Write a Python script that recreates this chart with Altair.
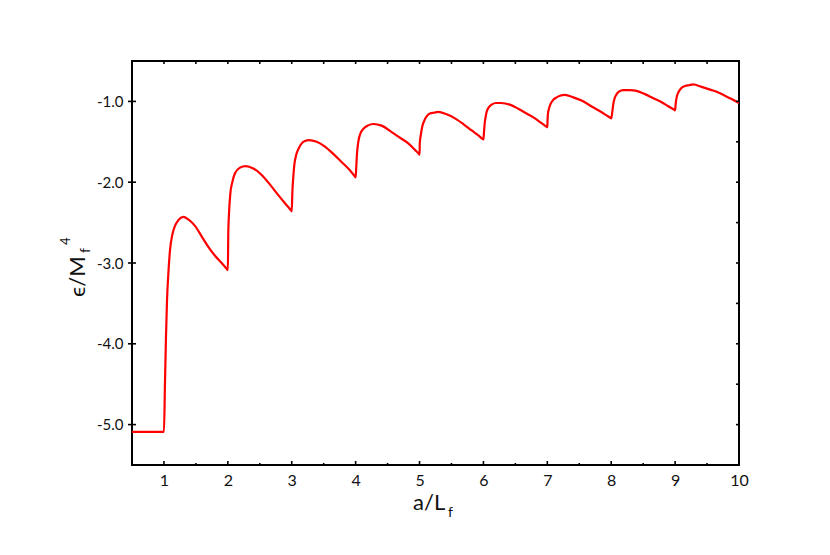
import altair as alt
import pandas as pd

# curve
x_vals = [0.5, 1.0,
          1.016, 1.032, 1.048, 1.069, 1.095, 1.131, 1.173, 1.225, 1.303, 1.381, 1.486, 1.590, 1.694, 1.799, 1.903, 1.99, 2.0,
          2.007, 2.018, 2.039, 2.07, 2.112, 2.19, 2.279, 2.399, 2.53, 2.66, 2.79, 2.894, 2.99, 3.0,
          3.009, 3.025, 3.04, 3.067, 3.103, 3.156, 3.207, 3.27, 3.39, 3.52, 3.65, 3.78, 3.896, 3.99, 4.0,
          4.01, 4.021, 4.042, 4.073, 4.12, 4.188, 4.277, 4.407, 4.564, 4.694, 4.824, 4.929, 4.99, 5.0,
          5.004, 5.023, 5.043, 5.074, 5.117, 5.163, 5.226, 5.293, 5.424, 5.555, 5.685, 5.816, 5.92, 5.99, 6.0,
          6.009, 6.019, 6.035, 6.05, 6.087, 6.129, 6.196, 6.274, 6.415, 6.545, 6.676, 6.806, 6.911, 6.99, 7.0,
          7.005, 7.01, 7.026, 7.052, 7.094, 7.146, 7.198, 7.276, 7.407, 7.537, 7.668, 7.798, 7.902, 7.99, 8.0,
          8.017, 8.033, 8.054, 8.085, 8.121, 8.189, 8.293, 8.398, 8.528, 8.658, 8.79, 8.893, 8.99, 9.0,
          9.009, 9.024, 9.05, 9.092, 9.155, 9.217, 9.284, 9.415, 9.572, 9.676, 9.78, 9.885, 10.0]
y_vals = [-5.09, -5.09,
          -4.49, -3.91, -3.46, -3.13, -2.84, -2.65, -2.54, -2.47, -2.43, -2.46, -2.54, -2.67, -2.80, -2.91, -3.00, -3.08, -3.09,
          -2.63, -2.39, -2.14, -2.00, -1.89, -1.82, -1.80, -1.83, -1.91, -2.03, -2.16, -2.26, -2.35, -2.36,
          -2.14, -1.93, -1.79, -1.67, -1.59, -1.52, -1.49, -1.48, -1.50, -1.56, -1.65, -1.75, -1.84, -1.93, -1.94,
          -1.81, -1.65, -1.50, -1.40, -1.34, -1.30, -1.28, -1.30, -1.38, -1.45, -1.52, -1.60, -1.65, -1.66,
          -1.52, -1.40, -1.31, -1.24, -1.18, -1.15, -1.14, -1.13, -1.16, -1.21, -1.28, -1.36, -1.42, -1.465, -1.47,
          -1.38, -1.28, -1.19, -1.13, -1.07, -1.04, -1.02, -1.02, -1.04, -1.09, -1.15, -1.21, -1.27, -1.315, -1.32,
          -1.21, -1.15, -1.09, -1.03, -0.98, -0.95, -0.93, -0.92, -0.95, -0.99, -1.05, -1.11, -1.16, -1.205, -1.21,
          -1.13, -1.03, -0.96, -0.91, -0.88, -0.86, -0.86, -0.87, -0.91, -0.96, -1.01, -1.06, -1.105, -1.11,
          -1.03, -0.95, -0.89, -0.84, -0.81, -0.80, -0.79, -0.82, -0.86, -0.89, -0.93, -0.97, -1.02]

x_major = [1, 2, 3, 4, 5, 6, 7, 8, 9, 10]
x_minor = [1.5, 2.5, 3.5, 4.5, 5.5, 6.5, 7.5, 8.5, 9.5]
x_top = [1, 1.5, 2, 2.5, 3, 3.5, 4, 4.5, 5, 5.5, 6, 6.5, 7, 7.5, 8, 8.5, 9, 9.5]
y_major = [-5.0, -4.0, -3.0, -2.0, -1.0]
y_right = [-5.0, -4.5, -4.0, -3.5, -3.0, -2.5, -2.0, -1.5, -1.0]

x_title = "a/L"
x_title_sub = "f"
y_title = "ϵ/M"
y_title_sub = "f"
y_title_sup = "4"

W, H = 607, 404
FONT = "Lato"
xs = alt.Scale(domain=[0.5, 10], nice=False, zero=False)
ys = alt.Scale(domain=[-5.5, -0.5], nice=False, zero=False)
ax_x = alt.Axis(values=x_major, format="d", tickSize=0, domain=False, grid=False, title=None,
                labelFontSize=16, labelPadding=7, labelFont=FONT, labelColor="#111",
                labelFlush=False)
ax_y = alt.Axis(values=y_major, tickSize=0, domain=False, grid=False, title=None,
                labelExpr="'-' + format(abs(datum.value), '.1f')",
                labelFontSize=15, labelPadding=9, labelFont=FONT, labelColor="#111")

curve = pd.DataFrame({"x": x_vals, "y": y_vals})

line = alt.Chart(curve).mark_line(color="#ff0000", strokeWidth=2.2, clip=True,
                                  interpolate="monotone").encode(
    x=alt.X("x:Q", scale=xs, axis=ax_x),
    y=alt.Y("y:Q", scale=ys, axis=ax_y),
)

def xticks(vals, y1, y2):
    return alt.Chart(pd.DataFrame({"v": vals})).mark_rule(color="black", strokeWidth=1.6).encode(
        x=alt.X("v:Q", scale=xs, axis=ax_x), y=alt.value(y1), y2=alt.value(y2))

def yticks(vals, x1, x2):
    return alt.Chart(pd.DataFrame({"v": vals})).mark_rule(color="black", strokeWidth=1.6).encode(
        y=alt.Y("v:Q", scale=ys, axis=ax_y), x=alt.value(x1), x2=alt.value(x2))

def label(txt, px, py, size, angle=0, align="left"):
    return alt.Chart(pd.DataFrame({"t": [txt]})).mark_text(
        font=FONT, fontSize=size, angle=angle, align=align, baseline="alphabetic", color="#111"
    ).encode(x=alt.value(px), y=alt.value(py), text="t:N")

chart = alt.layer(
    line,
    xticks(x_major, H, H - 4),
    xticks(x_minor, H, H - 2),
    xticks(x_top, 0, 3),
    yticks(y_major, -4, 4),
    yticks(y_right, W, W - 3),
    label(x_title, 281, 449, 22),
    label(x_title_sub, 316, 456, 14),
    label(y_title, -47, 236, 22, angle=270),
    label(y_title_sub, -42, 192, 14, angle=270),
    label(y_title_sup, -62, 184, 13, angle=270),
).properties(
    width=W, height=H,
    autosize=alt.AutoSizeParams(type="none"),
    padding={"left": 124, "top": 53, "right": 80, "bottom": 80},
).configure_view(stroke="black", strokeWidth=2)

chart.save("out.html", embed_options={"renderer": "svg", "actions": False})
